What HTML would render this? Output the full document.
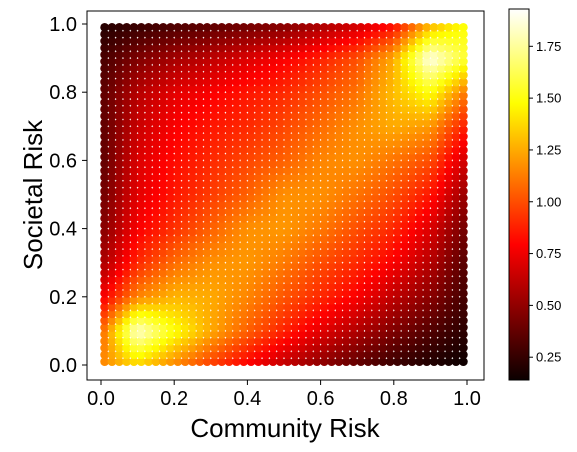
<!DOCTYPE html>
<html><head><meta charset="utf-8"><style>
body{margin:0;background:#fff;}
svg{display:block;font-family:"Liberation Sans","DejaVu Sans",sans-serif;}
</style></head><body>
<svg id="chart" width="577" height="452" viewBox="0 0 577 452">
<defs>
<linearGradient id="hotgrad" x1="0" y1="1" x2="0" y2="0">
<stop offset="0" stop-color="#0b0000"/><stop offset="0.365" stop-color="#ff0000"/>
<stop offset="0.746" stop-color="#ffff00"/><stop offset="1" stop-color="#ffffff"/>
</linearGradient>
</defs>
<g id="dots"></g>
<rect x="87" y="11" width="397" height="369" fill="none" stroke="#000" stroke-width="1"/>
<g id="axes"></g>
<text x="285" y="437" text-anchor="middle" font-size="26">Community Risk</text>
<text x="0" y="0" transform="translate(42,195) rotate(-90)" text-anchor="middle" font-size="26">Societal Risk</text>
<rect x="509" y="9" width="20" height="371" fill="url(#hotgrad)" stroke="#000" stroke-width="1"/>
<g id="cbticks"></g>
</svg>
<script>
// data: density values on an 11x11 grid; rows from societal=1.0 (top) down to 0.0, columns community 0.0..1.0
const gridCoords = [0,0.1,0.2,0.3,0.4,0.5,0.6,0.7,0.8,0.9,1.0];
const densityRows = [
[0.2,0.25,0.3,0.35,0.4,0.45,0.55,0.65,0.8,1.25,1.5],
[0.3,0.45,0.55,0.62,0.7,0.78,0.88,1.0,1.25,1.9,1.55],
[0.35,0.6,0.72,0.78,0.85,0.9,1.0,1.1,1.3,1.5,1.1],
[0.35,0.65,0.78,0.85,0.9,0.98,1.08,1.18,1.25,1.2,0.85],
[0.35,0.7,0.82,0.9,0.98,1.05,1.15,1.18,1.1,1.0,0.65],
[0.4,0.72,0.85,0.95,1.05,1.18,1.18,1.1,1.0,0.85,0.5],
[0.45,0.78,0.92,1.05,1.18,1.2,1.12,1.0,0.9,0.7,0.4],
[0.55,0.9,1.08,1.18,1.2,1.12,1.0,0.9,0.78,0.6,0.33],
[0.75,1.15,1.28,1.25,1.15,1.02,0.9,0.78,0.62,0.48,0.28],
[1.05,1.85,1.5,1.25,1.05,0.88,0.72,0.58,0.45,0.33,0.22],
[1.15,1.35,1.15,0.95,0.78,0.62,0.48,0.36,0.26,0.19,0.14]
];
const xTicks = [0.0,0.2,0.4,0.6,0.8,1.0];
const xTickLabels = ["0.0","0.2","0.4","0.6","0.8","1.0"];
const yTicks = [0.0,0.2,0.4,0.6,0.8,1.0];
const yTickLabels = ["0.0","0.2","0.4","0.6","0.8","1.0"];
const cbTicks = [0.25,0.5,0.75,1.0,1.25,1.5,1.75];
const cbTickLabels = ["0.25","0.50","0.75","1.00","1.25","1.50","1.75"];
const vMin = 0.14, vMax = 1.93;

const NS="http://www.w3.org/2000/svg";
function xScale(v){return 101+v*366;}
function yScale(v){return 365-v*341;}
function cbScale(v){return 380-(v-vMin)/(vMax-vMin)*371;}
function hot(val){
  let t=Math.max(0,Math.min(1,(val-vMin)/(vMax-vMin)));
  let r=Math.min(1,0.0416+t/0.365*(1-0.0416)), g=Math.max(0,Math.min(1,(t-0.365)/0.381)), b=Math.max(0,Math.min(1,(t-0.746)/0.254));
  return `rgb(${Math.round(r*255)},${Math.round(g*255)},${Math.round(b*255)})`;
}
function density(u,v){
  const n=gridCoords.length-1;
  let fx=u*n, fy=(1-v)*n;
  let i=Math.min(n-1,Math.floor(fx)), j=Math.min(n-1,Math.floor(fy));
  let ax=fx-i, ay=fy-j;
  const a=densityRows[j][i],b=densityRows[j][i+1],c=densityRows[j+1][i],d=densityRows[j+1][i+1];
  return a*(1-ax)*(1-ay)+b*ax*(1-ay)+c*(1-ax)*ay+d*ax*ay;
}
const dots=document.getElementById('dots');
for(let j=0;j<50;j++){for(let i=0;i<50;i++){
  const u=0.01+i*0.02, v=0.01+j*0.02;
  const c=document.createElementNS(NS,'circle');
  c.setAttribute('cx',xScale(u));c.setAttribute('cy',yScale(v));c.setAttribute('r',4.4);
  c.setAttribute('fill',hot(density(u,v)));
  
  
  dots.appendChild(c);
}}
const axes=document.getElementById('axes');
function line(g,x1,y1,x2,y2){const l=document.createElementNS(NS,'line');l.setAttribute('x1',x1);l.setAttribute('y1',y1);l.setAttribute('x2',x2);l.setAttribute('y2',y2);l.setAttribute('stroke','#000');g.appendChild(l);return l;}
function text(g,x,y,s,anchor,size){const t=document.createElementNS(NS,'text');t.setAttribute('x',x);t.setAttribute('y',y);t.setAttribute('text-anchor',anchor);t.setAttribute('font-size',size);t.textContent=s;g.appendChild(t);return t;}
xTicks.forEach((v,k)=>{
  const l=line(axes,xScale(v),380,xScale(v),385);
  
  
  const t=text(axes,xScale(v),405,xTickLabels[k],'middle',20);
  
  
});
yTicks.forEach((v,k)=>{
  const l=line(axes,82,yScale(v),87,yScale(v));
  
  
  const t=text(axes,77,yScale(v)+7,yTickLabels[k],'end',20);
  
  
});
const cb=document.getElementById('cbticks');
cbTicks.forEach((v,k)=>{
  const l=line(cb,529,cbScale(v),533,cbScale(v));
  
  
  const t=text(cb,536,cbScale(v)+4.5,cbTickLabels[k],'start',13);
  
  
});
</script>
</body></html>
